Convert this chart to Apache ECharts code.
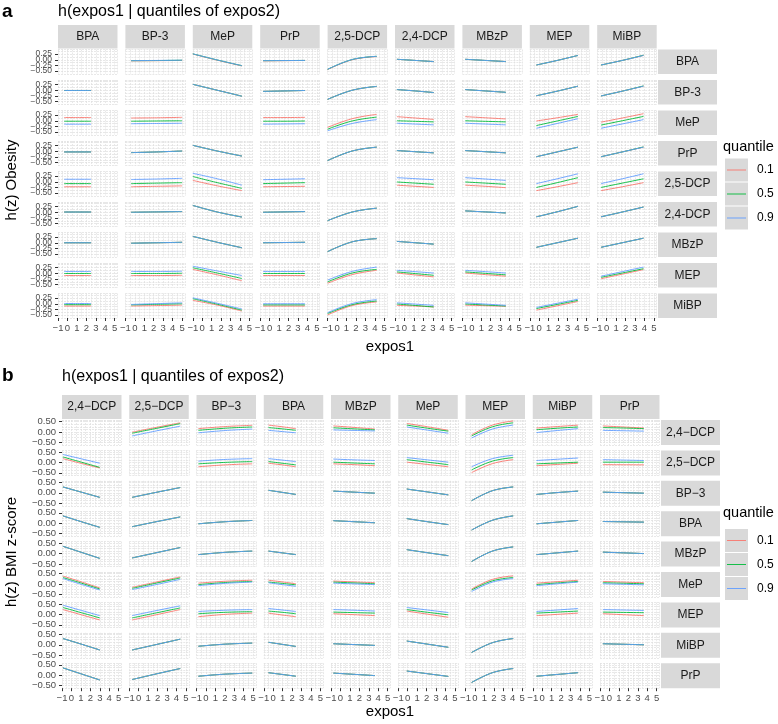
<!DOCTYPE html>
<html><head><meta charset="utf-8">
<script src="https://cdn.jsdelivr.net/npm/echarts@6/dist/echarts.min.js"></script>
<style>html,body{margin:0;padding:0;background:#fff}#c{width:778px;height:724px}</style>
</head><body><div id="c"></div>
<script>
// ---------- shared labels ----------
const quantiles = ['0.1', '0.5', '0.9'];
const xTicks = [-1, 0, 1, 2, 3, 4, 5];
const yTicksA = [-0.5, -0.25, 0, 0.25];
const yTicksB = [-0.5, 0, 0.5];

// ---------- panel a: h(z) Obesity ----------
const varsA = ['BPA', 'BP-3', 'MeP', 'PrP', '2,5-DCP', '2,4-DCP', 'MBzP', 'MEP', 'MiBP'];
// expos1 range covered by curves, per column
const xRangeA = [[-0.35, 2.5], [-0.4, 5.0], [-1, 4.2], [-0.7, 3.75], [-1, 4.2], [-0.8, 3.1], [-0.7, 3.6], [-0.3, 4.1], [-0.6, 3.9]];
// each panel: [q0.1, q0.5, q0.9], each = values at start / middle / end of range
const aRow1 = [null,
  [[-0.05, -0.04, -0.03], [-0.04, -0.035, -0.02], [-0.04, -0.03, -0.02]],
  [[0.25, -0.02, -0.27], [0.26, -0.01, -0.26], [0.26, -0.01, -0.26]],
  [[-0.05, -0.04, -0.03], [-0.04, -0.035, -0.03], [-0.04, -0.035, -0.03]],
  [[-0.43, 0.0, 0.14], [-0.42, 0.01, 0.15], [-0.42, 0.01, 0.15]],
  [[0.02, -0.03, -0.08], [0.02, -0.03, -0.08], [0.02, -0.03, -0.08]],
  [[0.02, -0.03, -0.08], [0.02, -0.03, -0.08], [0.02, -0.03, -0.08]],
  [[-0.23, -0.03, 0.19], [-0.23, -0.03, 0.19], [-0.23, -0.03, 0.19]],
  [[-0.23, -0.03, 0.19], [-0.23, -0.03, 0.2], [-0.23, -0.03, 0.19]]];
const aRow2 = [
  [[-0.01, -0.01, -0.01], [-0.01, -0.01, -0.01], [-0.01, -0.01, -0.01]],
  null,
  [[0.26, 0.0, -0.26], [0.26, 0.0, -0.26], [0.26, 0.0, -0.26]],
  [[-0.05, -0.03, -0.01], [-0.05, -0.03, -0.01], [-0.05, -0.03, -0.01]],
  [[-0.4, 0.0, 0.17], [-0.4, 0.0, 0.17], [-0.4, 0.0, 0.17]],
  [[0.03, -0.03, -0.1], [0.03, -0.03, -0.1], [0.03, -0.03, -0.1]],
  [[0.03, -0.03, -0.09], [0.03, -0.03, -0.09], [0.03, -0.03, -0.09]],
  [[-0.24, -0.04, 0.18], [-0.24, -0.04, 0.18], [-0.24, -0.04, 0.18]],
  [[-0.25, -0.04, 0.18], [-0.25, -0.04, 0.19], [-0.25, -0.04, 0.18]]];
const aRow3 = [
  [[0.14, 0.14, 0.14], [-0.02, -0.02, -0.02], [-0.15, -0.15, -0.15]],
  [[0.12, 0.13, 0.15], [-0.02, -0.01, 0.0], [-0.13, -0.12, -0.11]],
  null,
  [[0.14, 0.14, 0.15], [-0.02, -0.02, -0.01], [-0.15, -0.14, -0.13]],
  [[-0.29, 0.09, 0.28], [-0.37, -0.01, 0.16], [-0.44, -0.12, 0.05]],
  [[0.18, 0.12, 0.06], [0.0, -0.025, -0.05], [-0.11, -0.145, -0.18]],
  [[0.18, 0.13, 0.08], [0.0, -0.025, -0.05], [-0.11, -0.145, -0.18]],
  [[-0.01, 0.13, 0.28], [-0.21, -0.01, 0.19], [-0.33, -0.12, 0.09]],
  [[-0.06, 0.12, 0.31], [-0.19, 0.0, 0.19], [-0.33, -0.14, 0.05]]];
const aRow4 = [
  [[-0.03, -0.03, -0.03], [-0.03, -0.03, -0.03], [-0.03, -0.03, -0.03]],
  [[-0.06, -0.03, 0.01], [-0.06, -0.03, 0.01], [-0.06, -0.03, 0.01]],
  [[0.26, 0.01, -0.21], [0.26, 0.01, -0.21], [0.26, 0.01, -0.21]],
  null,
  [[-0.41, 0.01, 0.18], [-0.41, 0.01, 0.18], [-0.41, 0.01, 0.18]],
  [[0.03, -0.02, -0.07], [0.03, -0.02, -0.07], [0.03, -0.02, -0.07]],
  [[0.03, -0.02, -0.07], [0.03, -0.02, -0.07], [0.03, -0.02, -0.07]],
  [[-0.24, -0.03, 0.18], [-0.24, -0.03, 0.18], [-0.24, -0.03, 0.18]],
  [[-0.24, -0.03, 0.18], [-0.24, -0.03, 0.19], [-0.24, -0.03, 0.18]]];
const aRow5 = [
  [[-0.22, -0.22, -0.22], [-0.08, -0.08, -0.08], [0.11, 0.11, 0.11]],
  [[-0.22, -0.2, -0.18], [-0.08, -0.06, -0.04], [0.1, 0.12, 0.15]],
  [[0.06, -0.18, -0.39], [0.23, -0.04, -0.29], [0.37, 0.13, -0.15]],
  [[-0.22, -0.21, -0.2], [-0.08, -0.06, -0.04], [0.09, 0.11, 0.13]],
  null,
  [[-0.15, -0.2, -0.25], [-0.01, -0.06, -0.11], [0.18, 0.135, 0.09]],
  [[-0.15, -0.2, -0.26], [-0.01, -0.06, -0.11], [0.18, 0.12, 0.06]],
  [[-0.39, -0.22, -0.04], [-0.25, -0.04, 0.18], [-0.08, 0.13, 0.35]],
  [[-0.39, -0.22, -0.04], [-0.25, -0.06, 0.13], [-0.08, 0.13, 0.35]]];
const aRow6 = [
  [[0.01, 0.01, 0.01], [0.01, 0.01, 0.01], [0.01, 0.01, 0.01]],
  [[0.0, 0.015, 0.03], [0.0, 0.015, 0.03], [0.0, 0.015, 0.03]],
  [[0.3, 0.01, -0.21], [0.3, 0.01, -0.21], [0.3, 0.01, -0.21]],
  [[0.0, 0.015, 0.03], [0.0, 0.015, 0.03], [0.0, 0.015, 0.03]],
  [[-0.37, 0.01, 0.18], [-0.37, 0.01, 0.18], [-0.37, 0.01, 0.18]],
  null,
  [[0.06, 0.015, -0.03], [0.06, 0.015, -0.03], [0.06, 0.015, -0.03]],
  [[-0.2, 0.02, 0.26], [-0.2, 0.02, 0.26], [-0.2, 0.02, 0.26]],
  [[-0.2, 0.01, 0.23], [-0.2, 0.01, 0.23], [-0.2, 0.01, 0.23]]];
const aRow7 = [
  [[0.0, 0.0, 0.0], [0.0, 0.0, 0.0], [0.0, 0.0, 0.0]],
  [[-0.02, 0.0, 0.02], [-0.02, 0.0, 0.02], [-0.02, 0.0, 0.02]],
  [[0.28, 0.02, -0.22], [0.28, 0.02, -0.22], [0.28, 0.02, -0.22]],
  [[0.0, 0.01, 0.02], [0.0, 0.01, 0.02], [0.0, 0.01, 0.02]],
  [[-0.39, 0.04, 0.18], [-0.39, 0.04, 0.18], [-0.39, 0.04, 0.18]],
  [[0.06, 0.0, -0.06], [0.06, 0.0, -0.06], [0.06, 0.0, -0.06]],
  null,
  [[-0.2, 0.0, 0.2], [-0.2, 0.0, 0.2], [-0.2, 0.0, 0.2]],
  [[-0.2, 0.0, 0.2], [-0.2, 0.0, 0.2], [-0.2, 0.0, 0.2]]];
const aRow8 = [
  [[-0.1, -0.1, -0.1], [-0.01, -0.01, -0.01], [0.08, 0.08, 0.08]],
  [[-0.1, -0.1, -0.09], [-0.01, -0.01, 0.0], [0.08, 0.08, 0.09]],
  [[0.17, -0.07, -0.33], [0.24, 0.01, -0.23], [0.31, 0.1, -0.1]],
  [[-0.1, -0.1, -0.1], [-0.01, -0.01, -0.01], [0.08, 0.08, 0.08]],
  [[-0.44, -0.06, 0.13], [-0.38, 0.01, 0.17], [-0.3, 0.08, 0.27]],
  [[0.01, -0.075, -0.16], [0.06, -0.015, -0.09], [0.13, 0.07, 0.01]],
  [[0.01, -0.06, -0.13], [0.06, -0.005, -0.07], [0.13, 0.07, 0.01]],
  null,
  [[-0.24, -0.04, 0.16], [-0.18, 0.01, 0.2], [-0.13, 0.07, 0.27]]];
const aRow9 = [
  [[-0.1, -0.1, -0.1], [-0.04, -0.04, -0.04], [0.01, 0.01, 0.01]],
  [[-0.1, -0.08, -0.06], [-0.05, -0.025, 0.0], [-0.03, 0.005, 0.04]],
  [[0.15, -0.06, -0.32], [0.22, -0.02, -0.28], [0.26, 0.02, -0.23]],
  [[-0.1, -0.1, -0.1], [-0.05, -0.05, -0.05], [0.0, 0.0, 0.0]],
  [[-0.49, -0.08, 0.08], [-0.43, -0.04, 0.12], [-0.39, 0.01, 0.18]],
  [[-0.07, -0.1, -0.14], [-0.01, -0.075, -0.14], [0.04, -0.015, -0.07]],
  [[-0.06, -0.085, -0.11], [-0.01, -0.055, -0.1], [0.04, -0.015, -0.07]],
  [[-0.28, -0.09, 0.1], [-0.21, -0.03, 0.15], [-0.16, 0.02, 0.2]],
  null];
const rowsA = [aRow1, aRow2, aRow3, aRow4, aRow5, aRow6, aRow7, aRow8, aRow9];

// ---------- panel b: h(z) BMI z-score ----------
const varsB = ['2,4\u2212DCP', '2,5\u2212DCP', 'BP\u22123', 'BPA', 'MBzP', 'MeP', 'MEP', 'MiBP', 'PrP'];
const xRangeB = [[-0.9, 3.0], [-0.7, 4.4], [-0.8, 4.9], [-0.5, 2.4], [-0.75, 3.65], [-0.1, 4.3], [-0.35, 4.05], [-0.6, 3.8], [-0.7, 3.65]];
const bRow1 = [null,
  [[-0.01, 0.22, 0.44], [-0.06, 0.17, 0.4], [-0.19, 0.05, 0.28]],
  [[0.16, 0.26, 0.32], [0.08, 0.18, 0.24], [-0.04, 0.07, 0.14]],
  [[0.33, 0.25, 0.16], [0.21, 0.15, 0.08], [0.08, 0.02, -0.04]],
  [[0.29, 0.22, 0.14], [0.2, 0.15, 0.1], [0.1, 0.075, 0.05]],
  [[0.41, 0.25, 0.08], [0.33, 0.18, 0.04], [0.24, 0.09, -0.06]],
  [[-0.13, 0.33, 0.53], [-0.19, 0.25, 0.44], [-0.29, 0.14, 0.33]],
  [[0.19, 0.26, 0.33], [0.11, 0.18, 0.24], [-0.03, 0.07, 0.16]],
  [[0.29, 0.24, 0.19], [0.21, 0.19, 0.16], [0.08, 0.06, 0.04]]];
const bRow2 = [
  [[0.18, -0.05, -0.27], [0.26, 0.01, -0.24], [0.38, 0.17, -0.04]],
  null,
  [[-0.21, -0.12, -0.07], [-0.07, 0.0, 0.04], [0.06, 0.14, 0.18]],
  [[-0.04, -0.12, -0.21], [0.04, -0.04, -0.12], [0.18, 0.11, 0.04]],
  [[-0.07, -0.11, -0.16], [0.01, -0.03, -0.07], [0.16, 0.12, 0.09]],
  [[0.01, -0.1, -0.21], [0.13, 0.01, -0.11], [0.23, 0.12, 0.01]],
  [[-0.49, -0.06, 0.13], [-0.36, 0.06, 0.23], [-0.21, 0.18, 0.34]],
  [[-0.16, -0.1, -0.04], [-0.07, -0.03, 0.01], [0.09, 0.15, 0.21]],
  [[-0.11, -0.115, -0.12], [0.01, 0.01, 0.01], [0.13, 0.11, 0.09]]];
const bRow3 = [
  [[0.28, 0.03, -0.22], [0.28, 0.03, -0.22], [0.28, 0.03, -0.22]],
  [[-0.22, 0.02, 0.25], [-0.22, 0.02, 0.25], [-0.22, 0.02, 0.25]],
  null,
  [[0.12, 0.02, -0.08], [0.12, 0.02, -0.08], [0.12, 0.02, -0.08]],
  [[0.08, 0.03, -0.02], [0.08, 0.03, -0.02], [0.08, 0.03, -0.02]],
  [[0.18, 0.04, -0.1], [0.18, 0.04, -0.1], [0.18, 0.04, -0.1]],
  [[-0.38, 0.1, 0.28], [-0.38, 0.1, 0.28], [-0.38, 0.1, 0.28]],
  [[-0.08, 0.01, 0.08], [-0.08, 0.01, 0.08], [-0.08, 0.01, 0.08]],
  [[0.03, 0.005, -0.02], [0.03, 0.005, -0.02], [0.03, 0.005, -0.02]]];
const bRow4 = [
  [[0.35, 0.07, -0.2], [0.35, 0.07, -0.2], [0.35, 0.07, -0.2]],
  [[-0.17, 0.07, 0.3], [-0.17, 0.07, 0.3], [-0.17, 0.07, 0.3]],
  [[-0.03, 0.07, 0.13], [-0.03, 0.07, 0.13], [-0.03, 0.07, 0.13]],
  null,
  [[0.12, 0.07, 0.02], [0.12, 0.07, 0.02], [0.12, 0.07, 0.02]],
  [[0.22, 0.07, -0.07], [0.22, 0.07, -0.07], [0.22, 0.07, -0.07]],
  [[-0.33, 0.14, 0.35], [-0.33, 0.14, 0.35], [-0.33, 0.14, 0.35]],
  [[-0.03, 0.05, 0.13], [-0.03, 0.05, 0.13], [-0.03, 0.05, 0.13]],
  [[0.08, 0.065, 0.05], [0.08, 0.065, 0.05], [0.08, 0.065, 0.05]]];
const bRow5 = [
  [[0.35, 0.06, -0.23], [0.35, 0.06, -0.23], [0.35, 0.06, -0.23]],
  [[-0.21, 0.04, 0.29], [-0.21, 0.04, 0.29], [-0.21, 0.04, 0.29]],
  [[-0.05, 0.06, 0.12], [-0.05, 0.06, 0.12], [-0.05, 0.06, 0.12]],
  [[0.12, 0.035, -0.05], [0.12, 0.035, -0.05], [0.12, 0.035, -0.05]],
  null,
  [[0.19, 0.04, -0.1], [0.19, 0.04, -0.1], [0.19, 0.04, -0.1]],
  [[-0.38, 0.12, 0.32], [-0.38, 0.12, 0.32], [-0.38, 0.12, 0.32]],
  [[-0.05, 0.035, 0.12], [-0.05, 0.035, 0.12], [-0.05, 0.035, 0.12]],
  [[0.07, 0.035, 0.0], [0.07, 0.035, 0.0], [0.07, 0.035, 0.0]]];
const bRow6 = [
  [[0.38, 0.1, -0.19], [0.31, 0.04, -0.24], [0.26, -0.02, -0.29]],
  [[-0.16, 0.09, 0.34], [-0.21, 0.04, 0.29], [-0.27, -0.03, 0.22]],
  [[0.04, 0.13, 0.18], [-0.03, 0.07, 0.12], [-0.08, 0.03, 0.09]],
  [[0.18, 0.1, 0.01], [0.09, 0.03, -0.04], [0.06, -0.03, -0.11]],
  [[0.14, 0.1, 0.06], [0.09, 0.05, 0.01], [0.04, 0.005, -0.03]],
  null,
  [[-0.24, 0.22, 0.39], [-0.29, 0.15, 0.31], [-0.36, 0.09, 0.26]],
  [[0.04, 0.11, 0.18], [-0.03, 0.05, 0.12], [-0.08, 0.01, 0.09]],
  [[0.12, 0.09, 0.06], [0.06, 0.035, 0.01], [0.01, -0.015, -0.04]]];
const bRow7 = [
  [[0.23, -0.02, -0.27], [0.33, 0.08, -0.17], [0.44, 0.19, -0.06]],
  [[-0.27, -0.02, 0.23], [-0.17, 0.07, 0.31], [-0.06, 0.18, 0.41]],
  [[-0.11, 0.0, 0.06], [0.03, 0.1, 0.13], [0.14, 0.2, 0.23]],
  [[0.06, -0.03, -0.11], [0.16, 0.1, 0.03], [0.28, 0.21, 0.14]],
  [[0.03, -0.015, -0.06], [0.11, 0.085, 0.06], [0.23, 0.2, 0.16]],
  [[0.16, 0.01, -0.14], [0.23, 0.1, -0.02], [0.33, 0.21, 0.09]],
  null,
  [[-0.06, 0.0, 0.06], [0.06, 0.11, 0.16], [0.14, 0.21, 0.28]],
  [[0.03, -0.015, -0.06], [0.11, 0.095, 0.08], [0.23, 0.21, 0.19]]];
const bRow8 = [
  [[0.3, 0.03, -0.25], [0.3, 0.03, -0.25], [0.3, 0.03, -0.25]],
  [[-0.25, 0.01, 0.27], [-0.25, 0.01, 0.27], [-0.25, 0.01, 0.27]],
  [[-0.07, 0.03, 0.08], [-0.07, 0.03, 0.08], [-0.07, 0.03, 0.08]],
  [[0.12, 0.02, -0.08], [0.12, 0.02, -0.08], [0.12, 0.02, -0.08]],
  [[0.05, 0.01, -0.03], [0.05, 0.01, -0.03], [0.05, 0.01, -0.03]],
  [[0.18, 0.03, -0.12], [0.18, 0.03, -0.12], [0.18, 0.03, -0.12]],
  [[-0.37, 0.1, 0.3], [-0.37, 0.1, 0.3], [-0.37, 0.1, 0.3]],
  null,
  [[0.05, 0.025, 0.0], [0.05, 0.025, 0.0], [0.05, 0.025, 0.0]]];
const bRow9 = [
  [[0.35, 0.06, -0.23], [0.35, 0.06, -0.23], [0.35, 0.06, -0.23]],
  [[-0.21, 0.06, 0.32], [-0.21, 0.06, 0.32], [-0.21, 0.06, 0.32]],
  [[-0.05, 0.05, 0.1], [-0.05, 0.05, 0.1], [-0.05, 0.05, 0.1]],
  [[0.12, 0.035, -0.05], [0.12, 0.035, -0.05], [0.12, 0.035, -0.05]],
  [[0.1, 0.04, -0.02], [0.1, 0.04, -0.02], [0.1, 0.04, -0.02]],
  [[0.2, 0.07, -0.06], [0.2, 0.07, -0.06], [0.2, 0.07, -0.06]],
  [[-0.35, 0.12, 0.32], [-0.35, 0.12, 0.32], [-0.35, 0.12, 0.32]],
  [[-0.05, 0.035, 0.12], [-0.05, 0.035, 0.12], [-0.05, 0.035, 0.12]],
  null];
const rowsB = [bRow1, bRow2, bRow3, bRow4, bRow5, bRow6, bRow7, bRow8, bRow9];

// ---------- styling / layout ----------
const colors = ['#F8766D', '#00BA38', '#619CFF'];
const FONT = '"Liberation Sans", Arial, sans-serif';
const layoutA = {left: 58, colStep: 67.4, pw: 59.5, top: 49.5, rowStep: 30.5, ph: 24.5,
  ymin: -0.625, ymax: 0.45, yint: 0.125, yTicks: yTicksA, yFont: 8.5, stripTop: 25, stripH: 23.5, rowStripX: 658};
const layoutB = {left: 62, colStep: 67.25, pw: 59.5, top: 420, rowStep: 30.4, ph: 25,
  ymin: -0.625, ymax: 0.575, yint: 0.125, yTicks: yTicksB, yFont: 9.5, stripTop: 395, stripH: 24, rowStripX: 661};

const minus = v => (v < 0 ? '\u2212' : '') + Math.abs(v);
const fmtY = v => (v < 0 ? '\u2212' : '') + Math.abs(v).toFixed(2);
const gridLine = {show: true, lineStyle: {color: '#dedede', width: 0.7, type: [2, 1]}};

const option = {animation: false, grid: [], xAxis: [], yAxis: [], series: [], graphic: []};

function addFacet(vars, rows, xr, L) {
  // split tick values in two interleaved groups so close labels are never dropped
  const tickGroups = [L.yTicks.filter((v, i) => i % 2 === 0), L.yTicks.filter((v, i) => i % 2 === 1)];
  rows.forEach((row, r) => row.forEach((panel, c) => {
    const gi = option.grid.length;
    const left = L.left + c * L.colStep, top = L.top + r * L.rowStep;
    option.grid.push({left: left, top: top, width: L.pw, height: L.ph, show: true,
      backgroundColor: '#ffffff', borderWidth: 0, containLabel: false});
    const xi = option.xAxis.length;
    option.xAxis.push({type: 'value', gridIndex: gi, position: 'top', min: -1, max: 5.3, interval: 0.5,
      axisLine: {show: false, onZero: false}, axisTick: {show: false}, axisLabel: {show: false}, splitLine: gridLine});
    const yi = option.yAxis.length;
    option.yAxis.push({type: 'value', gridIndex: gi, position: 'right', min: L.ymin, max: L.ymax, interval: L.yint,
      axisLine: {show: false, onZero: false}, axisTick: {show: false}, axisLabel: {show: false}, splitLine: gridLine});
    if (r === rows.length - 1) {
      option.xAxis.push({type: 'value', gridIndex: gi, position: 'bottom', min: -1, max: 5.3,
        axisLine: {show: false, onZero: false},
        axisTick: {show: true, customValues: xTicks, length: 3, lineStyle: {color: '#333', width: 1}},
        axisLabel: {show: true, customValues: xTicks, formatter: minus, fontSize: 9.5, color: '#4d4d4d',
          fontFamily: FONT, margin: 5, showMinLabel: true, showMaxLabel: true, hideOverlap: false},
        splitLine: {show: false}});
    }
    if (c === 0) {
      tickGroups.forEach(vals => {
        if (!vals.length) return;
        option.yAxis.push({type: 'value', gridIndex: gi, position: 'left', min: L.ymin, max: L.ymax,
          axisLine: {show: false, onZero: false},
          axisTick: {show: true, customValues: vals, length: 3, lineStyle: {color: '#333', width: 1}},
          axisLabel: {show: true, customValues: vals, formatter: fmtY, fontSize: L.yFont,
            color: '#4d4d4d', fontFamily: FONT, margin: 6, showMinLabel: true, showMaxLabel: true,
            hideOverlap: false},
          splitLine: {show: false}});
      });
    }
    if (panel) {
      const x0 = xr[c][0], x1 = xr[c][1];
      const xs = [x0, (x0 + x1) / 2, x1];
      panel.forEach((vals, q) => {
        option.series.push({type: 'line', name: quantiles[q], xAxisIndex: xi, yAxisIndex: yi,
          data: xs.map((x, k) => [x, vals[k]]), smooth: 0.4, symbol: 'none', showSymbol: false,
          silent: true, z: 3 + q, lineStyle: {color: colors[q], width: 1, opacity: 0.9},
          itemStyle: {color: colors[q]}});
      });
    }
  }));
  // strips
  vars.forEach((v, c) => {
    const x = L.left + c * L.colStep;
    option.graphic.push({type: 'rect', shape: {x: x, y: L.stripTop, width: L.pw, height: L.stripH},
      style: {fill: '#d9d9d9'}, silent: true});
    option.graphic.push({type: 'text', x: x + L.pw / 2, y: L.stripTop + L.stripH / 2,
      style: {text: v, fill: '#1a1a1a', font: '12px ' + FONT, align: 'center', verticalAlign: 'middle',
        textAlign: 'center', textVerticalAlign: 'middle'}, silent: true});
  });
  vars.forEach((v, r) => {
    const y = L.top + r * L.rowStep;
    option.graphic.push({type: 'rect', shape: {x: L.rowStripX, y: y, width: 59, height: L.ph},
      style: {fill: '#d9d9d9'}, silent: true});
    option.graphic.push({type: 'text', x: L.rowStripX + 29.5, y: y + L.ph / 2,
      style: {text: v, fill: '#1a1a1a', font: '12px ' + FONT, align: 'center', verticalAlign: 'middle',
        textAlign: 'center', textVerticalAlign: 'middle'}, silent: true});
  });
}

function txt(x, y, s, font, align, rot) {
  option.graphic.push({type: 'text', x: x, y: y, rotation: rot || 0,
    style: {text: s, fill: '#000', font: font, align: align || 'left', verticalAlign: 'middle',
      textAlign: align || 'left', textVerticalAlign: 'middle'}, silent: true});
}
function legend(titleY, boxTop) {
  txt(723, titleY, 'quantile', '14.5px ' + FONT, 'left');
  quantiles.forEach((q, i) => {
    const y = boxTop + i * 24;
    option.graphic.push({type: 'rect', shape: {x: 725, y: y, width: 23, height: 23}, style: {fill: '#d9d9d9'}, silent: true});
    option.graphic.push({type: 'line', shape: {x1: 727, y1: y + 11.5, x2: 746, y2: y + 11.5},
      style: {stroke: colors[i], lineWidth: 1, opacity: 0.9}, silent: true});
    txt(757, y + 11.5, q, '12px ' + FONT, 'left');
  });
}

addFacet(varsA, rowsA, xRangeA, layoutA);
addFacet(varsB, rowsB, xRangeB, layoutB);

// titles and axis titles
txt(2, 12, 'a', 'bold 19px ' + FONT, 'left');
txt(58, 12, 'h(expos1 | quantiles of expos2)', '16px ' + FONT, 'left');
txt(2, 376, 'b', 'bold 19px ' + FONT, 'left');
txt(62, 377, 'h(expos1 | quantiles of expos2)', '16px ' + FONT, 'left');
txt(390, 347, 'expos1', '15px ' + FONT, 'center');
txt(390, 712, 'expos1', '15px ' + FONT, 'center');
txt(12, 180, 'h(z) Obesity', '15px ' + FONT, 'center', Math.PI / 2);
txt(12, 552, 'h(z) BMI z-score', '15px ' + FONT, 'center', Math.PI / 2);
legend(147, 158.5);
legend(513, 529);

const chart = echarts.init(document.getElementById('c'), null, {renderer: 'canvas'});
chart.setOption(option);
</script></body></html>
